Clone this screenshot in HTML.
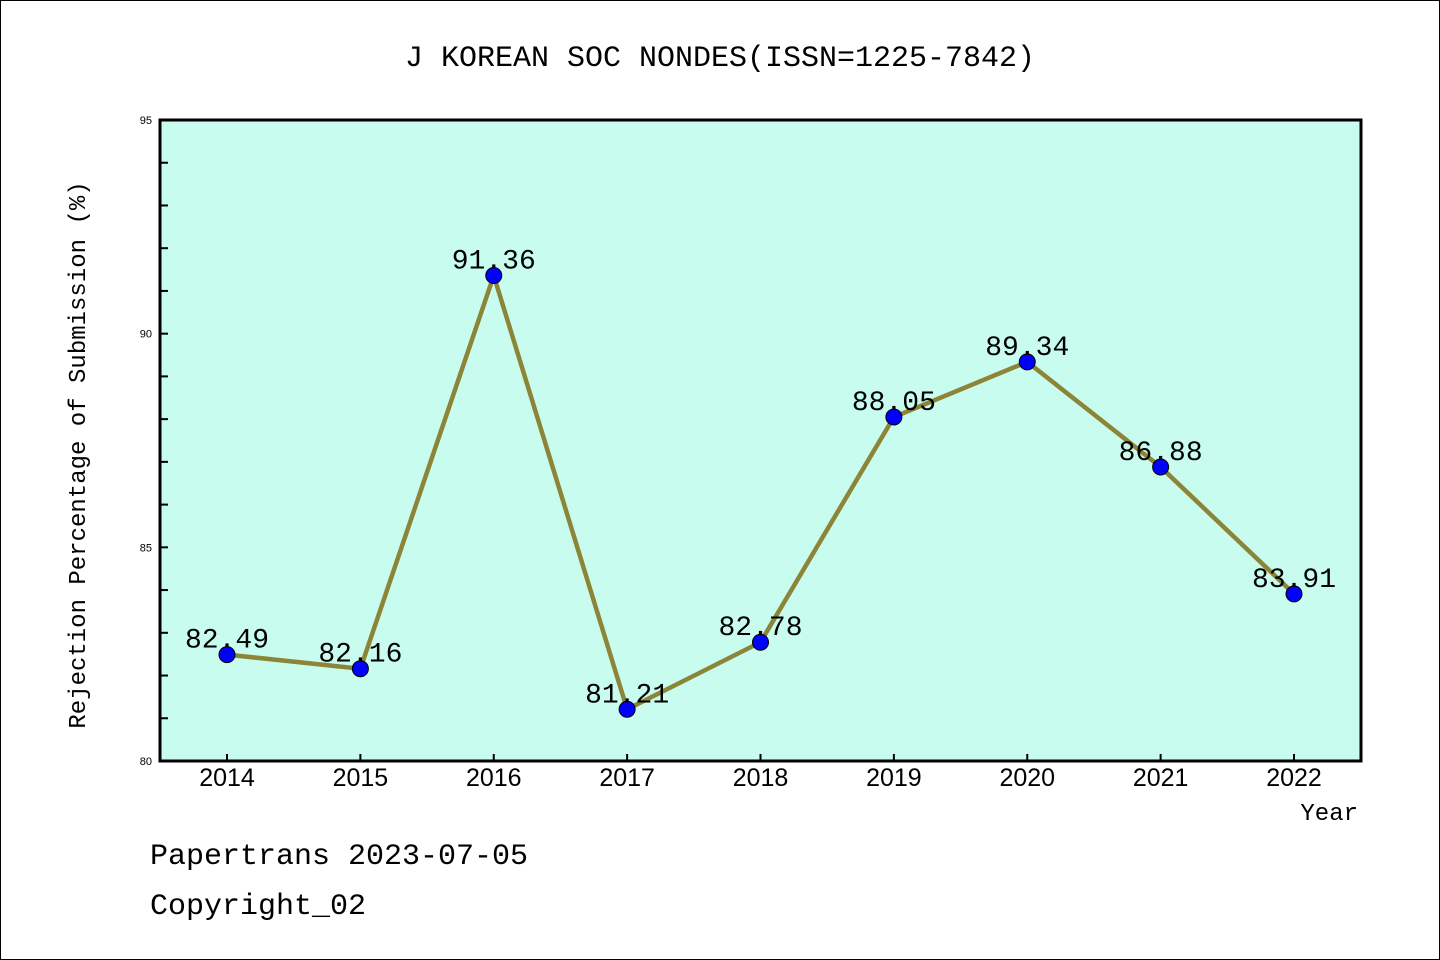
<!DOCTYPE html>
<html><head><meta charset="utf-8"><style>
body{margin:0;background:#fff}
svg{display:block;font-family:"Liberation Mono","WenQuanYi Zen Hei",monospace}
</style></head><body>
<svg width="1440" height="960" id="c">
<rect x="0.5" y="0.5" width="1439" height="959" fill="#fff" stroke="#000"/>
<text x="720" y="66" font-size="30" text-anchor="middle">J KOREAN SOC NONDES(ISSN=1225-7842)</text>
<rect x="160" y="120" width="1201" height="641" fill="#c8fcee"/>
<g id="ax"></g>
<rect x="160" y="120" width="1201" height="641" fill="none" stroke="#000" stroke-width="3"/>
<text transform="translate(85,455) rotate(-90)" font-size="24" text-anchor="middle">Rejection Percentage of Submission (%)</text>
<text x="1358" y="820" font-size="24" text-anchor="end">Year</text>
<text x="150" y="864" font-size="30">Papertrans 2023-07-05</text>
<text x="150" y="914" font-size="30">Copyright_02</text>
</svg>
<script>
const years=["2014","2015","2016","2017","2018","2019","2020","2021","2022"];
const values=[82.49,82.16,91.36,81.21,82.78,88.05,89.34,86.88,83.91];
const yTicks=[80,85,90,95];
const NS="http://www.w3.org/2000/svg";
const g=document.getElementById("ax");
const X=i=>227+i*(1294-227)/(years.length-1);
const Y=v=>761-(v-80)*(641/15);
function mk(t,a,txt){const e=document.createElementNS(NS,t);for(const k in a)e.setAttribute(k,a[k]);if(txt!=null)e.textContent=txt;g.appendChild(e);return e;}
for(let v=81;v<95;v++){const e=mk("line",{x1:160,x2:168,y1:Y(v),y2:Y(v),stroke:"#000","stroke-width":2});

}
yTicks.forEach(v=>{const e=mk("text",{x:152,y:Y(v)+4,"font-size":11,"text-anchor":"end","font-family":"Liberation Sans, sans-serif"},String(v));

});
years.forEach((y,i)=>{const t=mk("line",{x1:X(i),x2:X(i),y1:761,y2:754,stroke:"#000","stroke-width":2});


const l=mk("text",{x:X(i),y:786,"font-size":25,"text-anchor":"middle","font-family":"Liberation Sans, sans-serif"},y);

});
const pl=mk("polyline",{points:values.map((v,i)=>X(i)+","+Y(v)).join(" "),fill:"none",stroke:"#8c8538","stroke-width":4.5});


values.forEach((v,i)=>{const c=mk("circle",{cx:X(i),cy:Y(v),r:8,fill:"#0000ff",stroke:"#000","stroke-width":1});


const l=mk("text",{x:X(i),y:Y(v)-7,"font-size":28,"text-anchor":"middle"},v.toFixed(2));

});
</script>
</body></html>
